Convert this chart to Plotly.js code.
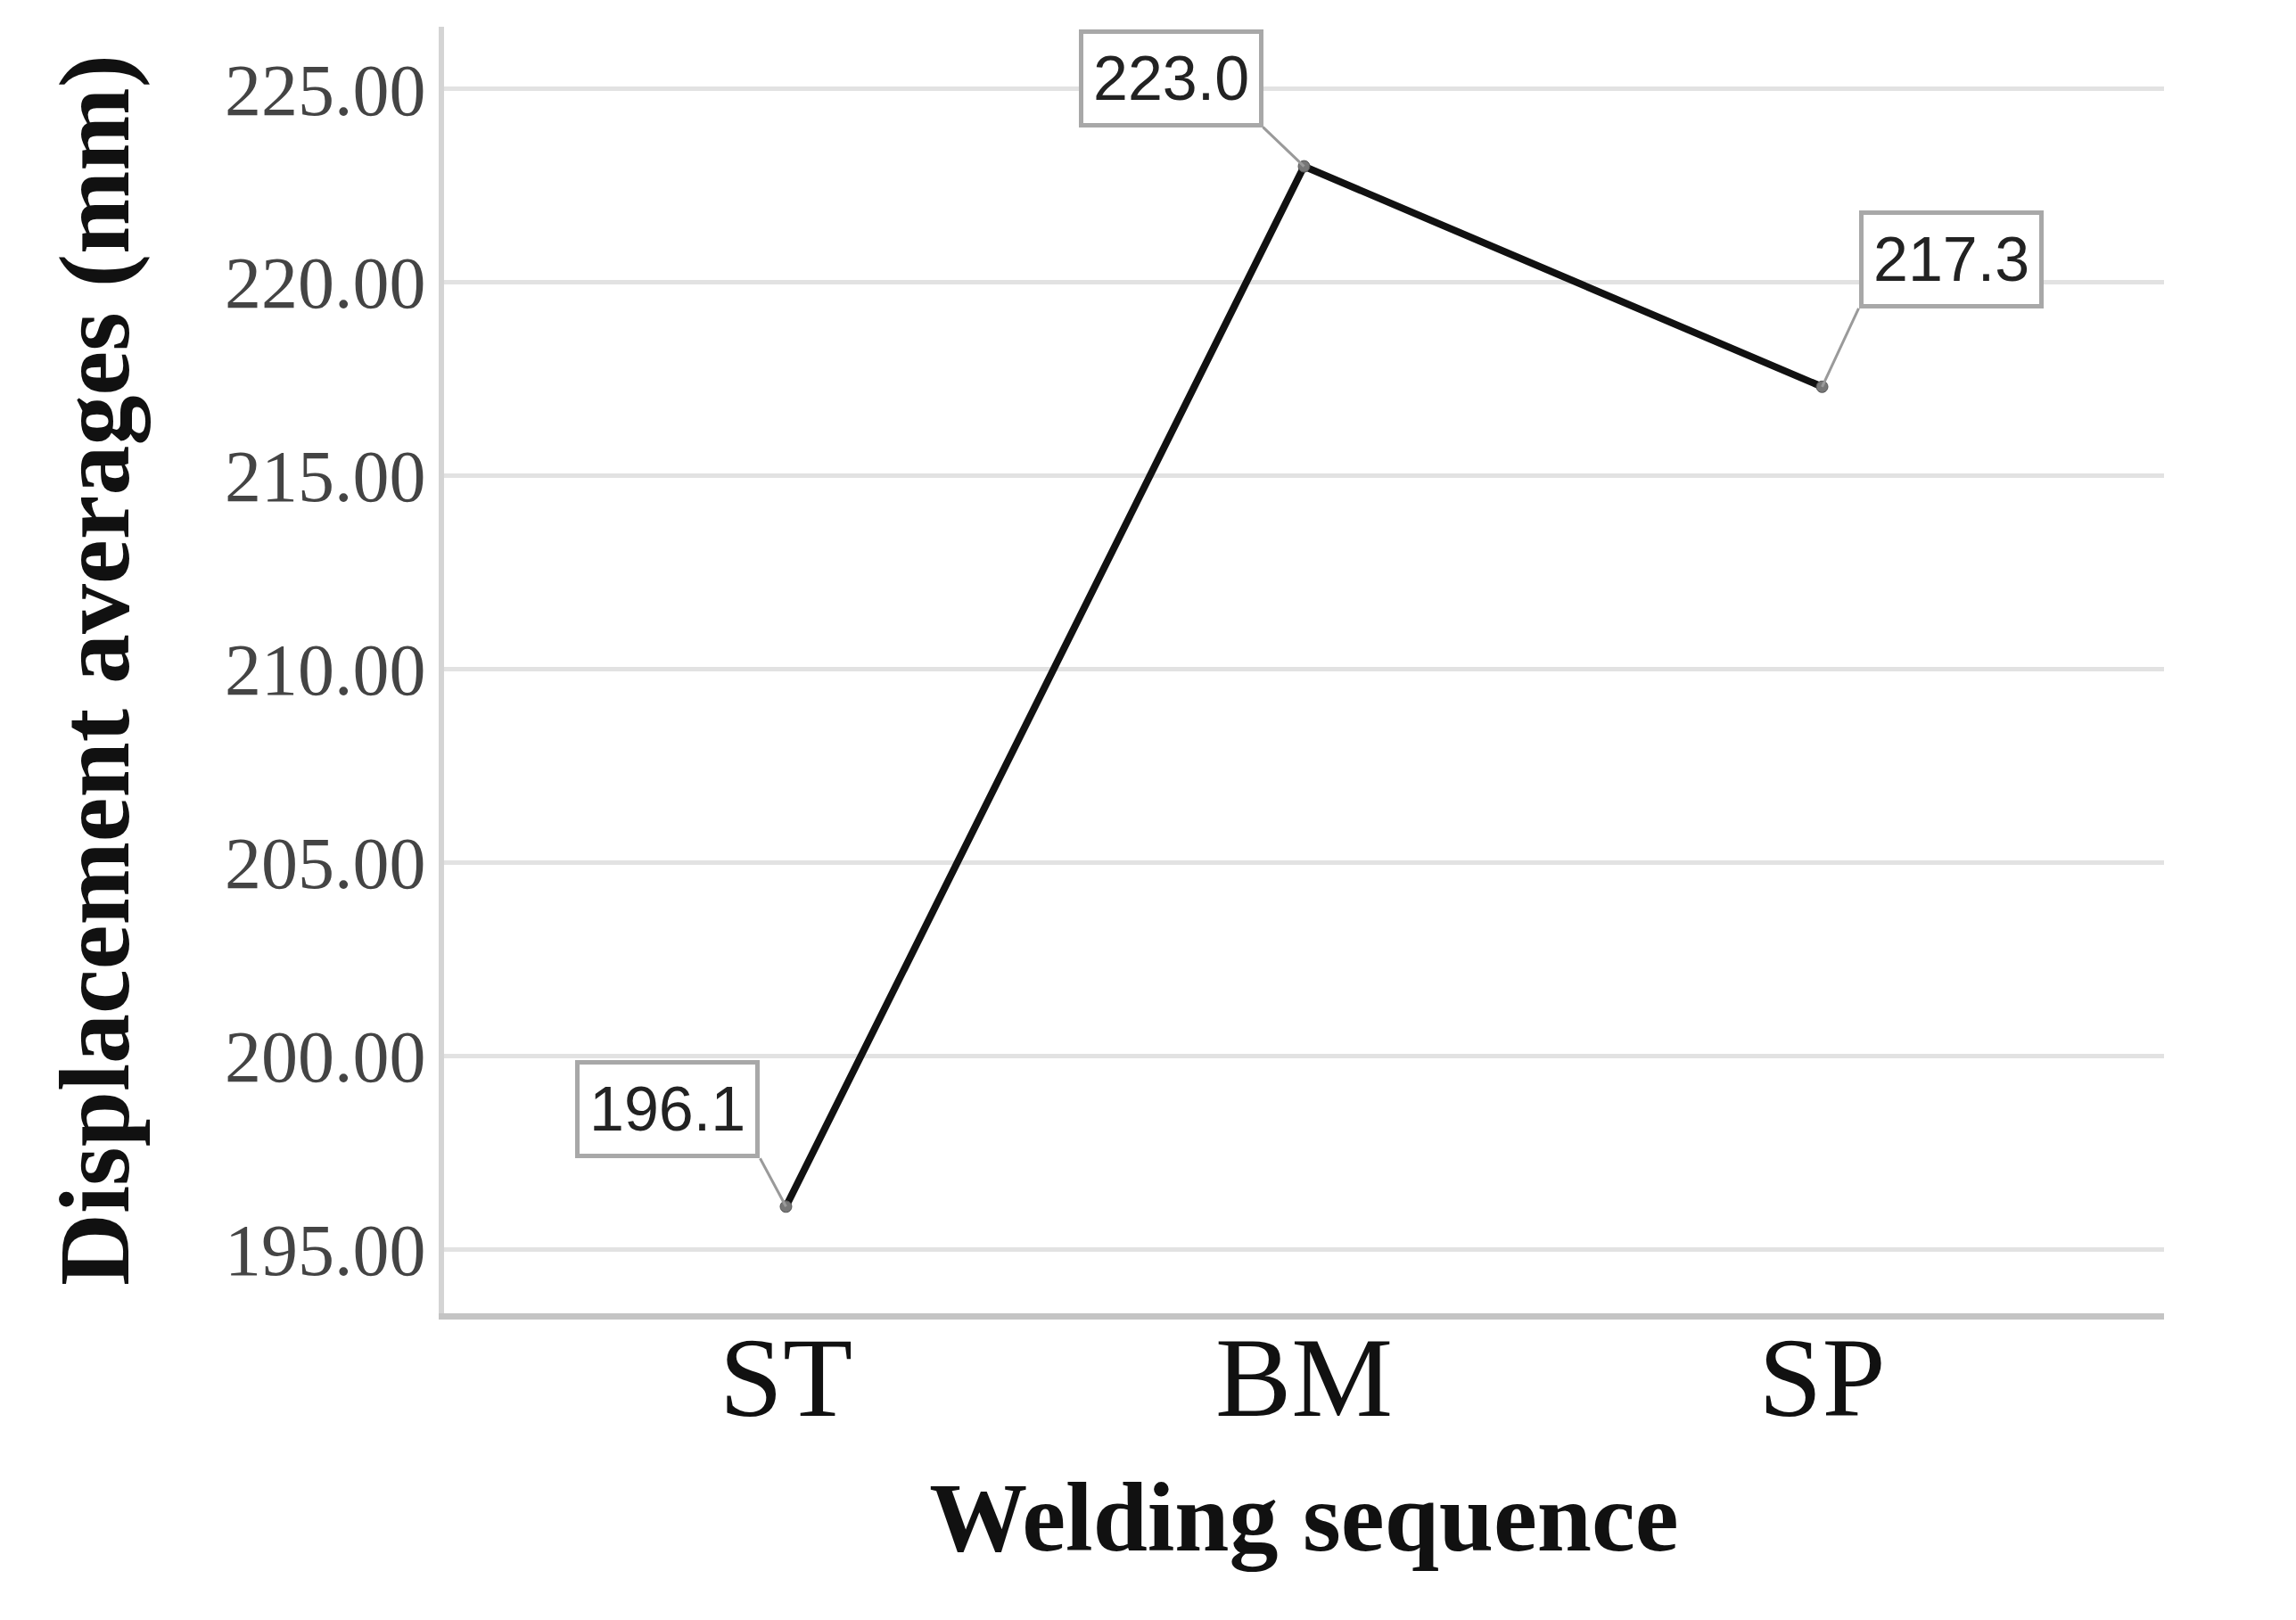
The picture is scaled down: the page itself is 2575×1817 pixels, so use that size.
<!DOCTYPE html>
<html>
<head>
<meta charset="utf-8">
<script src="https://cdn.plot.ly/plotly-3.0.1.min.js"></script>
<style>
  html, body { margin: 0; padding: 0; background: #ffffff; }
  #chart { width: 2575px; height: 1817px; }
</style>
</head>
<body>
<div id="chart"></div>
<script>
// Dados do gráfico
const sequencias = ['ST', 'BM', 'SP'];
const deslocamentos = [196.1, 223.0, 217.3];
const rotulos = ['196.1', '223.0', '217.3'];
const ticksY = [195, 200, 205, 210, 215, 220, 225];
const ticksYTexto = ['195.00', '200.00', '205.00', '210.00', '215.00', '220.00', '225.00'];

// Posição das caixas de rótulo (deslocamento em px em relação ao ponto)
const deslocX = [-29, -46, 41];
const deslocY = [-54, -44, -88];
const ancoraX = ['right', 'right', 'left'];

const traceLinha = {
    x: sequencias,
    y: deslocamentos,
    type: 'scatter',
    mode: 'lines+markers',
    line: { color: '#111111', width: 8 },
    marker: { size: 13, color: '#777777', line: { color: '#555555', width: 1 } },
    hoverinfo: 'skip',
    showlegend: false
};

// Rótulos com caixa e linha de ligação
const anotacoes = sequencias.map((s, i) => ({
    x: s,
    y: deslocamentos[i],
    xref: 'x',
    yref: 'y',
    text: rotulos[i],
    showarrow: true,
    arrowhead: 0,
    arrowwidth: 3,
    arrowcolor: '#9a9a9a',
    ax: deslocX[i],
    ay: deslocY[i],
    xanchor: ancoraX[i],
    yanchor: 'bottom',
    bordercolor: '#a8a8a8',
    borderwidth: 5,
    borderpad: 11,
    bgcolor: '#ffffff',
    font: { family: 'Liberation Sans, Arial, sans-serif', size: 70, color: '#222222' }
}));

const layout = {
    width: 2575,
    height: 1817,
    paper_bgcolor: '#ffffff',
    plot_bgcolor: '#ffffff',
    margin: { l: 498, r: 148, t: 30, b: 344 },
    xaxis: {
        type: 'category',
        range: [-0.66, 2.66],
        showgrid: false,
        zeroline: false,
        showline: true,
        linecolor: '#c4c4c4',
        linewidth: 7,
        ticks: '',
        ticklabelstandoff: -46,
        tickfont: { family: 'Liberation Serif, Times New Roman, serif', size: 128, color: '#111111' },
        title: {
            text: '<b>Welding sequence</b>',
            font: { family: 'Liberation Serif, Times New Roman, serif', size: 110, color: '#111111' },
            standoff: 50
        }
    },
    yaxis: {
        range: [193.34, 226.61],
        tickvals: ticksY,
        ticktext: ticksYTexto,
        showgrid: true,
        gridcolor: '#e2e2e2',
        gridwidth: 5,
        zeroline: false,
        showline: true,
        linecolor: '#d4d4d4',
        linewidth: 6,
        ticks: '',
        ticklabelstandoff: -2,
        tickfont: { family: 'Liberation Serif, Times New Roman, serif', size: 82, color: '#444444' },
        title: {
            text: '<b>Displacement averages (mm)</b>',
            font: { family: 'Liberation Serif, Times New Roman, serif', size: 112, color: '#111111' },
            standoff: 72
        }
    },
    annotations: anotacoes
};

Plotly.newPlot('chart', [traceLinha], layout, { displayModeBar: false, staticPlot: true });
</script>
</body>
</html>
